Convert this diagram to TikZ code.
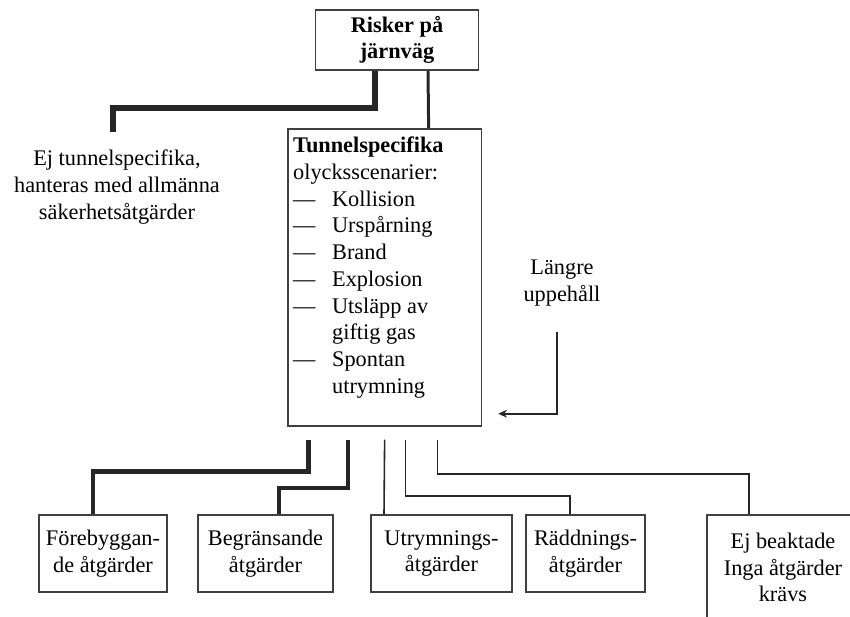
\documentclass[tikz,border=0pt]{standalone}
\usepackage{fontspec}
\setmainfont{Liberation Serif}
\usepackage{tikz}
\usepackage{xcolor}
\usetikzlibrary{arrows.meta}

\begin{document}
\begin{tikzpicture}[x=0.02cm, y=-0.02cm,
  every node/.style={font=\fontsize{12.7}{15.2}\selectfont},
  box/.style={draw=black!75, line width=1pt, align=center, inner sep=2pt},
  conn/.style={draw=black!85, line width=0.9pt}]
\useasboundingbox (0,0) rectangle (850,617);
\node[box,font=\bfseries\fontsize{12.7}{15.2}\selectfont,minimum width=3.26cm,minimum height=1.2cm] (risk) at (397,40) {Risker på\\järnväg};
\node[box,anchor=north west,inner sep=3pt,align=left] (tunnel) at (287,128) {\parbox[t][5.73cm][t]{3.66cm}{\setlength\tabcolsep{0pt}%
\begin{tabular}{@{}p{0.78cm}l@{}}
\multicolumn{2}{@{}l@{}}{\textbf{Tunnelspecifika}}\\
\multicolumn{2}{@{}l@{}}{olycksscenarier:}\\
— & Kollision\\
— & Urspårning\\
— & Brand\\
— & Explosion\\
— & Utsläpp av\\
  & giftig gas\\
— & Spontan\\
  & utrymning
\end{tabular}}};
\node[align=center,anchor=north] (ejtunnel) at (117,144) {Ej tunnelspecifika,\\hanteras med allmänna\\säkerhetsåtgärder};
\node[align=center] (langre) at (562,283) {Längre\\uppehåll};
\node[box,minimum width=2.56cm,minimum height=1.54cm] (fore) at (103,553.5) {Förebyggan-\\de åtgärder};
\node[box,minimum width=2.7cm,minimum height=1.54cm] (begr) at (265.5,553.5) {Begränsande\\åtgärder};
\node[box,minimum width=2.82cm,minimum height=1.54cm] (utr) at (441.5,553.5) {Utrymnings-\\åtgärder};
\node[box,minimum width=2.38cm,minimum height=1.54cm] (radd) at (585.5,553.5) {Räddnings-\\åtgärder};
\node[box,minimum width=3.04cm,minimum height=2.1cm] (ejbeakt) at (783,567.5) {Ej beaktade\\Inga åtgärder\\krävs};
\coordinate (pilstart) at (557,332);
% upper branches
\draw[conn,line width=3.4pt] ([shift={(-22,0)}]risk.south) -- ++(0,37) -| ([shift={(-4,-12)}]ejtunnel.north);
\draw[conn,line width=1.7pt] ([shift={(31,0)}]risk.south) -- ([shift={(44,0)}]tunnel.north);
\draw[conn,line width=1.4pt,-{Stealth[length=5pt,width=4.5pt]}] (pilstart) |- ([shift={(16,-13)}]tunnel.south east);
% lower branches
\draw[conn,line width=2.8pt] ([shift={(-76,13)}]tunnel.south) -- ++(0,32) -| ([shift={(-10,0)}]fore.north);
\draw[conn,line width=2.2pt] ([shift={(-37,13)}]tunnel.south) -- ++(0,48) -| ([shift={(13.5,0)}]begr.north);
\draw[conn] ([shift={(0,13)}]tunnel.south) -- ([shift={(-57.5,0)}]utr.north);
\draw[conn] ([shift={(21,13)}]tunnel.south) -- ++(0,56) -| ([shift={(-15.5,0)}]radd.north);
\draw[conn] ([shift={(53,13)}]tunnel.south) -- ++(0,34) -| ([shift={(-34,0)}]ejbeakt.north);
\end{tikzpicture}
\end{document}
